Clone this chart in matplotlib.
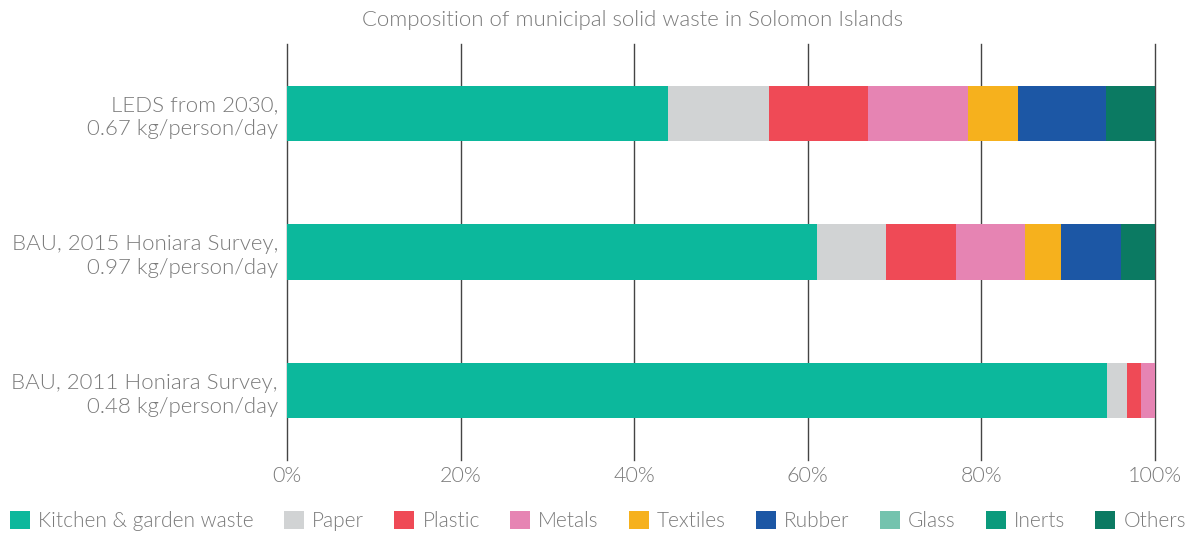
import matplotlib.pyplot as plt
from matplotlib.patches import Patch
from matplotlib.ticker import FuncFormatter

# ========== Datos ==========
scenarios = ["LEDS from 2030,\n0.67 kg/person/day",
             "BAU, 2015 Honiara Survey,\n0.97 kg/person/day",
             "BAU, 2011 Honiara Survey,\n0.48 kg/person/day"]
categories = ["Kitchen & garden waste", "Paper", "Plastic", "Metals", "Textiles",
              "Rubber", "Glass", "Inerts", "Others"]
colors = ["#0CB89C", "#D1D3D4", "#EF4A56", "#E684B3", "#F6B11D",
          "#1C57A5", "#74C3AE", "#0B9A7C", "#0B7A62"]

kitchen = [43.9, 61.1, 94.5]
paper = [11.6, 7.9, 2.3]
plastic = [11.4, 8.1, 1.6]
metals = [11.5, 7.9, 1.6]
textiles = [5.8, 4.2, 0.0]
rubber = [10.1, 6.9, 0.0]
glass = [0.0, 0.0, 0.0]
inerts = [0.0, 0.0, 0.0]
others = [5.7, 3.9, 0.0]
series = [kitchen, paper, plastic, metals, textiles, rubber, glass, inerts, others]

TXT = "#7a7a7a"
plt.rcParams['font.family'] = ['Lato', 'DejaVu Sans']
plt.rcParams['font.weight'] = 300

fig = plt.figure(figsize=(11.92, 5.34), dpi=100)
ax = fig.add_axes([287 / 1192, 1 - 460 / 534, 868 / 1192, 416 / 534])

left = [0.0] * len(scenarios)
for vals, col in zip(series, colors):
    ax.barh(range(len(scenarios)), vals, left=left, height=0.4, color=col, zorder=3)
    left = [a + b for a, b in zip(left, vals)]

ax.set_xlim(0, 100)
ax.set_ylim(2.5, -0.5)
ax.set_xticks(range(0, 101, 20))
ax.xaxis.set_major_formatter(FuncFormatter(lambda v, p: f"{v:.0f}%"))
ax.set_yticks(range(len(scenarios)))
ax.set_yticklabels(scenarios, fontsize=16, linespacing=1.25)
ax.tick_params(axis="x", length=0, labelsize=15.5, labelcolor=TXT, pad=4.5)
ax.tick_params(axis="y", length=0, labelcolor=TXT, pad=6.5)
ax.grid(axis="x", color="#444444", linewidth=1, zorder=0)
for gl in ax.get_xgridlines():
    gl.set_clip_on(False)
for s in ax.spines.values():
    s.set_visible(False)

fig.text(632 / 1192, 1 - 20 / 534, "Composition of municipal solid waste in Solomon Islands",
         ha="center", va="center", fontsize=16, color=TXT)

handles = [Patch(facecolor=c, edgecolor="none") for c in colors]
leg = fig.legend(handles, categories, loc="center", bbox_to_anchor=(598 / 1192, 1 - 521 / 534),
                 ncol=9, frameon=False, fontsize=15, handlelength=0.95, handleheight=0.95,
                 handletextpad=0.4, columnspacing=1.45, borderaxespad=0)
for t in leg.get_texts():
    t.set_color(TXT)

fig.savefig("out.png", dpi=100)
